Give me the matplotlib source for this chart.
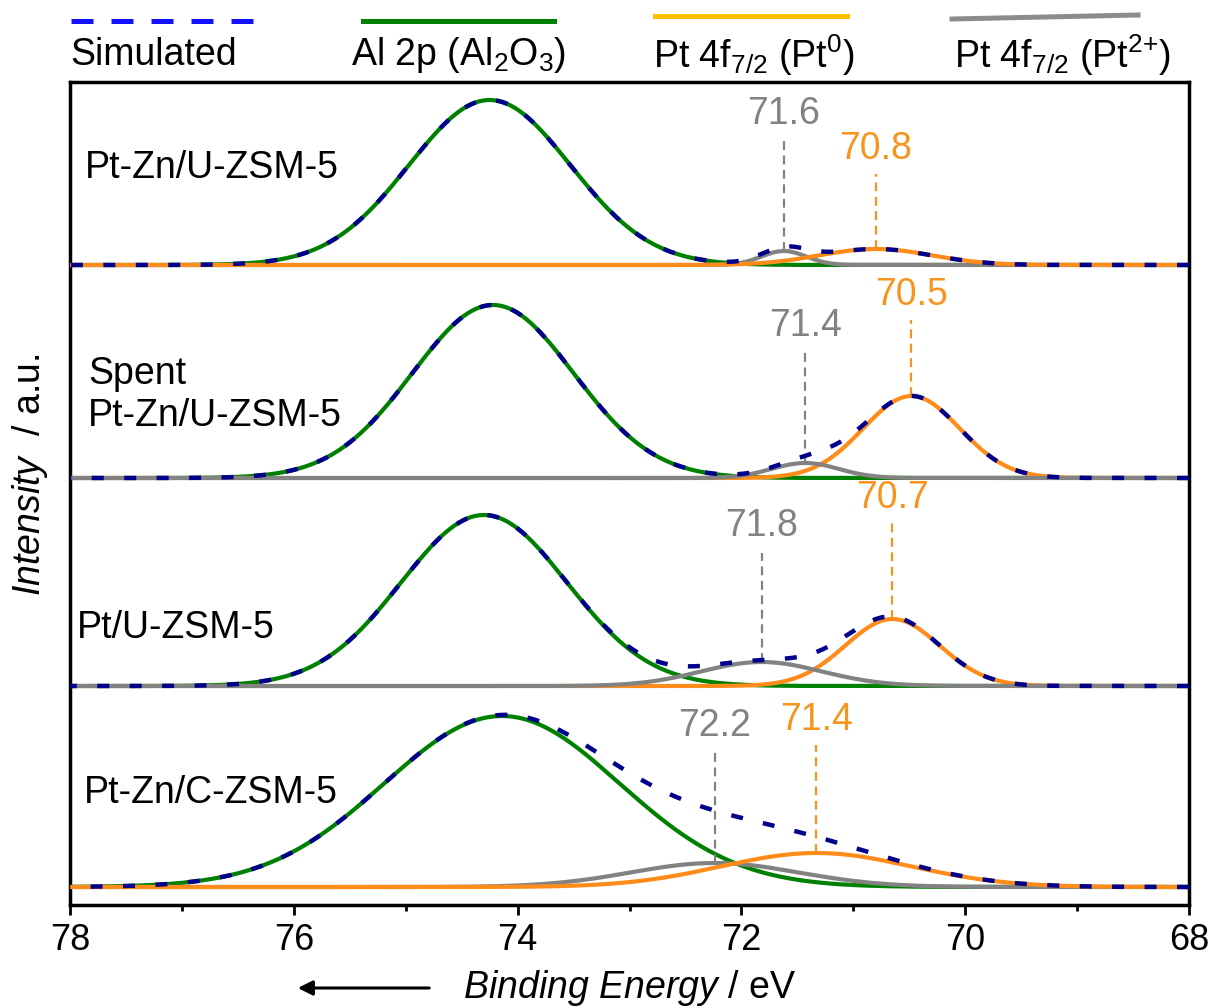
import numpy as np
import matplotlib
matplotlib.use('Agg')
import matplotlib.pyplot as plt
from matplotlib.lines import Line2D

samples = ['Pt-Zn/U-ZSM-5', 'Spent\nPt-Zn/U-ZSM-5', 'Pt/U-ZSM-5', 'Pt-Zn/C-ZSM-5']

# fitted components: centre (eV), height (a.u.), sigma (eV)
al_center = [74.25, 74.22, 74.30, 74.14]
al_height = [165, 173, 171, 171]
al_sigma = [0.72, 0.72, 0.74, 1.05]

pt0_center = [70.80, 70.48, 70.65, 71.33]
pt0_height = [16, 82, 67, 34]
pt0_sigma = [0.50, 0.43, 0.42, 0.85]

pt2_center = [71.62, 71.43, 71.82, 72.24]
pt2_height = [14, 15, 24, 24]
pt2_sigma = [0.20, 0.30, 0.54, 0.75]

pt0_label = ['70.8', '70.5', '70.7', '71.4']
pt2_label = ['71.6', '71.4', '71.8', '72.2']

xticks = [78, 76, 74, 72, 70, 68]

# stacking / annotation layout
offsets = [640, 427, 219, 18]
name_x = [77.87, 77.84, 77.94, 77.88]
name_y = [737, 510, 277, 112]
pt0_rise = [75, 76, 96, 108]
pt2_rise = [110, 110, 109, 110]
pt0_on_top = [True, False, False, True]

GREEN = '#008000'
ORANGE = '#ff8c1a'
GREY = '#828282'
NAVY = '#00008b'
LBL_ORANGE = '#f7941d'

plt.rcParams['font.family'] = ['Liberation Sans', 'DejaVu Sans']
plt.rcParams['mathtext.fontset'] = 'custom'
plt.rcParams['mathtext.rm'] = 'Liberation Sans'
plt.rcParams['mathtext.it'] = 'Liberation Sans:italic'
plt.rcParams['mathtext.default'] = 'regular'


def gauss(x, c, h, s):
    return h * np.exp(-(x - c) ** 2 / (2 * s * s))


fig = plt.figure(figsize=(12.12, 10.08), dpi=100)
ax = fig.add_axes([70 / 1212, 1 - 905 / 1008, 1119 / 1212, 823 / 1008])

x = np.linspace(68, 78, 2001)
for i in range(4):
    off = offsets[i]
    al = gauss(x, al_center[i], al_height[i], al_sigma[i])
    p0 = gauss(x, pt0_center[i], pt0_height[i], pt0_sigma[i])
    p2 = gauss(x, pt2_center[i], pt2_height[i], pt2_sigma[i])
    sim = al + p0 + p2

    z0, z2 = (4, 3) if pt0_on_top[i] else (3, 4)
    ax.plot(x, al + off, color=GREEN, lw=3, zorder=2)
    ax.plot(x, p2 + off, color=GREY, lw=3, zorder=z2)
    ax.plot(x, p0 + off, color=ORANGE, lw=3, zorder=z0)
    ax.plot(x, sim + off, color=NAVY, lw=3.2, ls=(0, (2.7, 4.6)), zorder=6)

    # peak markers
    top2 = off + pt2_height[i]
    ax.plot([pt2_center[i]] * 2, [top2, top2 + pt2_rise[i]], color=GREY,
            lw=1.6, ls=(0, (4, 2.5)), zorder=5)
    ax.text(pt2_center[i], top2 + pt2_rise[i] + 27, pt2_label[i], color=GREY,
            fontsize=27, ha='center', va='center')
    top0 = off + pt0_height[i]
    ax.plot([pt0_center[i]] * 2, [top0, top0 + pt0_rise[i]], color=LBL_ORANGE,
            lw=1.6, ls=(0, (4, 2.5)), zorder=5)
    ax.text(pt0_center[i], top0 + pt0_rise[i] + 25, pt0_label[i], color=LBL_ORANGE,
            fontsize=27, ha='center', va='center')

    ax.text(name_x[i], name_y[i], samples[i], fontsize=27, ha='left', va='center')

ax.set_xlim(78, 68)
ax.set_ylim(0, 823)
ax.set_xticks(xticks)
ax.set_xticks([77, 75, 73, 71, 69], minor=True)
ax.set_yticks([])
ax.tick_params(axis='x', which='major', direction='out', length=7, width=2,
               labelsize=26, pad=6)
ax.tick_params(axis='x', which='minor', direction='out', length=4, width=2)
for sp in ax.spines.values():
    sp.set_linewidth(2.5)

# axis titles
fig.text(630 / 1212, 1 - 988 / 1008, r'$\it{Binding\ Energy}$ / eV', fontsize=27,
         ha='center', va='center')
ax.annotate('', xy=(295, 20), xytext=(432, 20), xycoords='figure pixels',
            textcoords='figure pixels',
            arrowprops=dict(arrowstyle='-|>', lw=2.2, color='k', mutation_scale=22))
fig.text(30 / 1212, 1 - 475 / 1008, r'$\it{Intensity}$  / a.u.', fontsize=27,
         rotation=90, ha='center', va='center')

# hand-placed legend row above the frame
legend_items = [
    ('Simulated', '#1010ff', (0, (4.4, 3.6)), 70, (71, 263), (21, 21)),
    (r'Al 2p (Al$_2$O$_3$)', GREEN, '-', 351, (363, 554), (21, 21)),
    (r'Pt 4f$_{7/2}$ (Pt$^0$)', '#ffc000', '-', 653, (655, 847), (16, 16)),
    (r'Pt 4f$_{7/2}$ (Pt$^{2{+}}$)', '#8c8c8c', '-', 954, (952, 1138), (19, 15)),
]
for label, col, ls, tx, (xa, xb), (ya, yb) in legend_items:
    fig.add_artist(Line2D([xa / 1212, xb / 1212], [1 - ya / 1008, 1 - yb / 1008],
                          transform=fig.transFigure, color=col, lw=3.6, ls=ls))
    fig.text(tx / 1212, 1 - 55 / 1008, label, fontsize=27, ha='left', va='center')

fig.savefig('out.png', dpi=100)
